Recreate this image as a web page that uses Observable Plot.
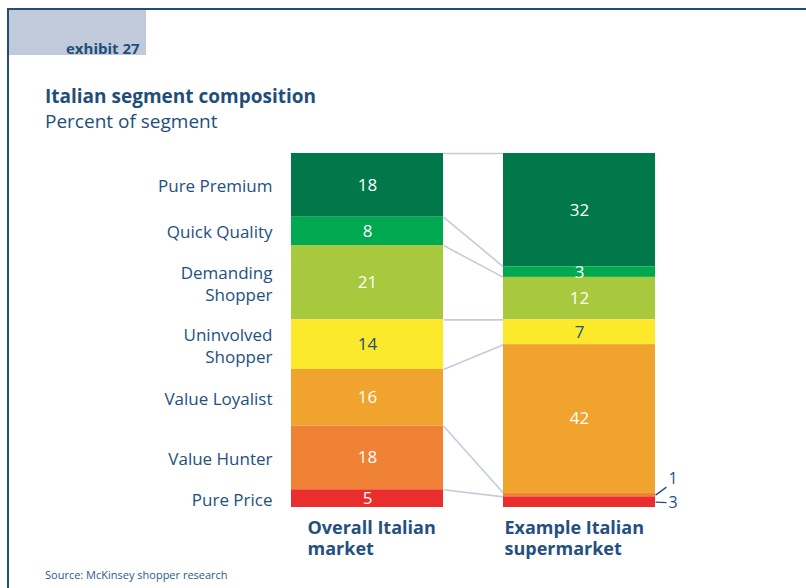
<!DOCTYPE html>
<html>
<head>
<meta charset="utf-8">
<script src="https://cdn.jsdelivr.net/npm/d3@7"></script>
<script src="https://cdn.jsdelivr.net/npm/@observablehq/plot@0.6"></script>
<style>
  html, body { margin: 0; padding: 0; background: #fff; }
  #page { position: relative; width: 806px; height: 588px; overflow: hidden; font-family: "Open Sans", sans-serif; color: #1F4E79; }
  #page .abs { position: absolute; white-space: nowrap; line-height: 1; }
  #chart { position: absolute; left: 0; top: 0; }
</style>
</head>
<body>
<div id="page">
  <div class="abs" style="left:9px;top:10px;width:137px;height:45px;background:#C0CADB;"></div>
  <div class="abs" style="left:7px;top:8px;width:799px;height:2px;background:#1F4E79;"></div>
  <div class="abs" style="left:7px;top:8px;width:2px;height:580px;background:#1F4E79;"></div>
  <div class="abs" style="left:66px;top:41px;font-size:15px;font-weight:bold;">exhibit 27</div>
  <div class="abs" style="left:45px;top:87px;font-size:19px;font-weight:bold;">Italian segment composition</div>
  <div class="abs" style="left:45px;top:112px;font-size:19px;">Percent of segment</div>
  <div class="abs" style="left:45px;top:569px;font-size:11px;color:#2E5B8C;">Source: McKinsey shopper research</div>
  <div id="chart"></div>
</div>
<script>
// ---- Data ----
const segments = ["Pure Premium", "Quick Quality", "Demanding Shopper", "Uninvolved Shopper", "Value Loyalist", "Value Hunter", "Pure Price"];
const segmentLabels = ["Pure Premium", "Quick Quality", "Demanding\nShopper", "Uninvolved\nShopper", "Value Loyalist", "Value Hunter", "Pure Price"];
const markets = ["Overall Italian\nmarket", "Example Italian\nsupermarket"];
const overallValues = [18, 8, 21, 14, 16, 18, 5];
const exampleValues = [32, 3, 12, 7, 42, 1, 3];
const segmentColors = ["#00784A", "#00A94F", "#A8C83E", "#FDE92C", "#F0A42E", "#EF8234", "#EA2E2E"];
const darkTextSegments = ["Uninvolved Shopper"];
// labels drawn outside the Example bar (segment, vertical shift in percentage points)
const outsideNotes = [{segment: "Value Hunter", shift: -4.5}, {segment: "Pure Price", shift: 0.3}];

// ---- Layout helpers ----
const BAR_W = 152 / 364;           // bar width as a fraction of x domain
const barLeft = i => i * (1 - BAR_W);
const navy = "#24507F";

const valueSets = [overallValues, exampleValues];
const rows = [];
markets.forEach((m, i) => {
  let cum = 0;
  valueSets[i].forEach((v, j) => {
    rows.push({market: m, i, segment: segments[j], label: segmentLabels[j], value: v,
      x1: barLeft(i), x2: barLeft(i) + BAR_W, y1: cum, y2: cum + v, mid: cum + v / 2});
    cum += v;
  });
});

// connector boundaries (top and each internal boundary)
const bounds = [];
{
  let a = 0, b = 0;
  bounds.push({a, b});
  for (let j = 0; j < segments.length - 1; j++) {
    a += overallValues[j]; b += exampleValues[j];
    bounds.push({a, b});
  }
}

const isOutside = d => d.i === 1 && outsideNotes.some(n => n.segment === d.segment);
const shiftOf = d => outsideNotes.find(n => n.segment === d.segment).shift;
const inside = rows.filter(d => !isOutside(d));
const outside = rows.filter(isOutside);

const chart = Plot.plot({
  width: 806,
  height: 588,
  marginTop: 153,
  marginBottom: 81,
  marginLeft: 291,
  marginRight: 151,
  x: {domain: [0, 1], axis: null},
  y: {domain: [0, 100], reverse: true, axis: null},
  color: {type: "ordinal", domain: segments, range: segmentColors},
  style: {fontFamily: "'Open Sans', sans-serif", overflow: "visible", background: "transparent"},
  marks: [
    Plot.link(bounds, {x1: () => BAR_W, x2: () => 1 - BAR_W, y1: "a", y2: "b", stroke: "#C3CCDD", strokeWidth: 1.6}),
    Plot.rect(rows, {x1: "x1", x2: "x2", y1: "y1", y2: "y2", fill: "segment"}),
    Plot.text(inside.filter(d => !darkTextSegments.includes(d.segment)), {
      x: d => (d.x1 + d.x2) / 2, y: "mid", text: d => String(d.value), fill: "white", fontSize: 17}),
    Plot.text(inside.filter(d => darkTextSegments.includes(d.segment)), {
      x: d => (d.x1 + d.x2) / 2, y: "mid", text: d => String(d.value), fill: navy, fontSize: 17}),
    // outside labels with leader lines
    Plot.link(outside, {x1: "x2", x2: d => d.x2 + 11 / 364, y1: "mid", y2: d => d.mid + shiftOf(d) * 0.5, stroke: navy, strokeWidth: 1.3}),
    Plot.text(outside, {x: "x2", y: d => d.mid + shiftOf(d), dx: 13, text: d => String(d.value), textAnchor: "start", fill: navy, fontSize: 16}),
    // segment names on the left
    Plot.text(rows.filter(d => d.i === 0), {x: "x1", y: "mid", dx: -19, text: "label", textAnchor: "end", fill: navy, fontSize: 17, lineHeight: 1.3}),
    // market labels under the bars
    Plot.text(rows.filter(d => d.i === 0 && d.segment === segments[segments.length - 1]), {
      x: "x1", y: "y2", dx: 16, dy: 11, text: "market", textAnchor: "start", lineAnchor: "top", fill: navy, fontSize: 18, fontWeight: "bold", lineHeight: 1.2}),
    Plot.text(rows.filter(d => d.i === 1 && d.segment === segments[segments.length - 1]), {
      x: "x1", y: "y2", dx: 1, dy: 11, text: "market", textAnchor: "start", lineAnchor: "top", fill: navy, fontSize: 18, fontWeight: "bold", lineHeight: 1.2})
  ]
});
document.getElementById("chart").appendChild(chart);
</script>
</body>
</html>
